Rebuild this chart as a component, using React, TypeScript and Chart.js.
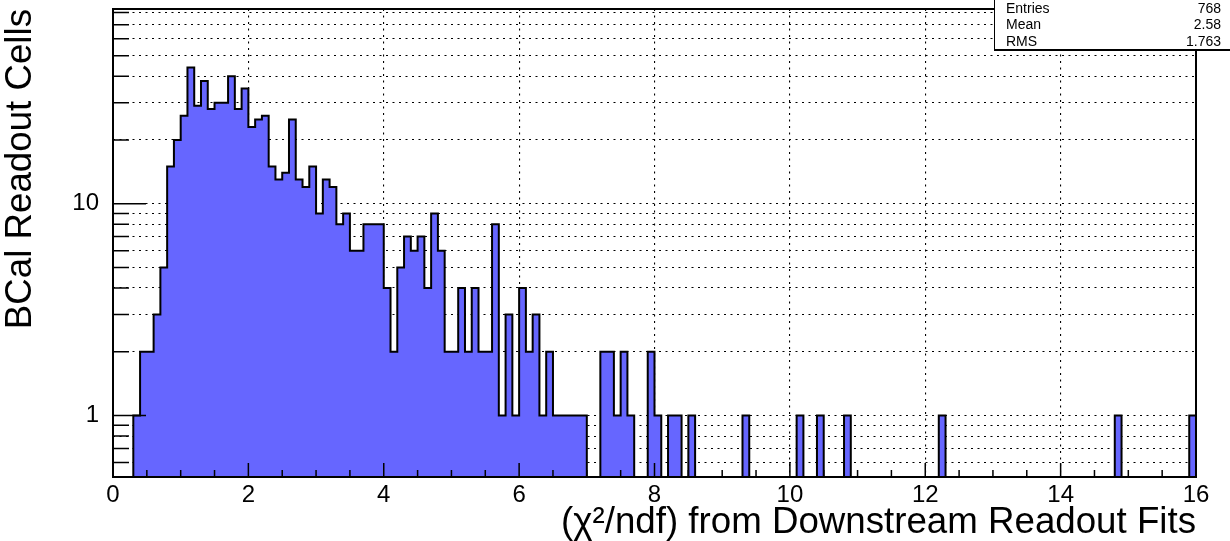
import React, { useEffect, useRef } from "react";
import { Chart, registerables } from "chart.js";

Chart.register(...registerables);

// ---- data ----
const BIN_WIDTH = 0.1;
const X_MIN = 0;
const X_MAX = 16;
const Y_MIN = 0.513;
const Y_MAX = 83;

// counts per 0.1-wide bin, from 0.0 to 16.0 (160 bins)
const COUNTS: number[] = [
  0, 0, 0, 1, 2, 2, 3, 5, 15, 20,
  26, 44, 29, 38, 28, 30, 30, 40, 28, 35,
  23, 25, 26, 15, 13, 14, 25, 13, 12, 15,
  9, 13, 12, 8, 9, 6, 6, 8, 8, 8,
  4, 2, 5, 7, 6, 7, 4, 9, 6, 2,
  2, 4, 2, 4, 2, 2, 8, 1, 3, 1,
  4, 2, 3, 1, 2, 1, 1, 1, 1, 1,
  0, 0, 2, 2, 1, 2, 1, 0, 0, 2,
  1, 0, 1, 1, 0, 1, 0, 0, 0, 0,
  0, 0, 0, 1, 0, 0, 0, 0, 0, 0,
  0, 1, 0, 0, 1, 0, 0, 0, 1, 0,
  0, 0, 0, 0, 0, 0, 0, 0, 0, 0,
  0, 0, 1, 0, 0, 0, 0, 0, 0, 0,
  0, 0, 0, 0, 0, 0, 0, 0, 0, 0,
  0, 0, 0, 0, 0, 0, 0, 0, 1, 0,
  0, 0, 0, 0, 0, 0, 0, 0, 0, 1,
];

const X_TICKS_MAJOR = [0, 2, 4, 6, 8, 10, 12, 14, 16];
const X_MINOR_STEP = 0.5;
const Y_TICKS = [0.6, 0.7, 0.8, 0.9, 1, 2, 3, 4, 5, 6, 7, 8, 9, 10, 20, 30, 40, 50, 60, 70, 80];
const Y_LABELED = [1, 10];

const X_TITLE = "(\u03C7\u00B2/ndf) from Downstream Readout Fits";
const Y_TITLE = "BCal Readout Cells";

const STAT_NAMES = ["Entries", "Mean", "RMS"];
const STAT_VALUES = ["768", "2.58", "1.763"];

// ---- style ----
const FONT = "'Liberation Sans', Arial, Helvetica, sans-serif";
const FILL = "#6666ff";
const W = 1230;
const H = 541;
const AREA = { left: 113, right: 1196, top: 9, bottom: 477 };

const decorPlugin = {
  id: "rootDecor",
  afterDatasetsDraw(chart: any) {
    const { ctx, chartArea: a } = chart;
    const xs = chart.scales.x;
    const ys = chart.scales.y;
    ctx.save();
    ctx.strokeStyle = "#000";
    ctx.lineWidth = 1.5;
    ctx.beginPath();
    const n = Math.round((X_MAX - X_MIN) / X_MINOR_STEP);
    for (let i = 0; i <= n; i++) {
      const v = X_MIN + i * X_MINOR_STEP;
      const px = xs.getPixelForValue(v);
      const major = X_TICKS_MAJOR.includes(v);
      const len = major ? 14 : 7;
      ctx.moveTo(px, a.bottom);
      ctx.lineTo(px, a.bottom - len);
    }
    for (const v of Y_TICKS) {
      const py = ys.getPixelForValue(v);
      const len = Y_LABELED.includes(v) ? 33 : 16;
      ctx.moveTo(a.left, py);
      ctx.lineTo(a.left + len, py);
    }
    ctx.stroke();
    ctx.lineWidth = 2;
    ctx.strokeRect(a.left, a.top, a.right - a.left, a.bottom - a.top);
    ctx.restore();
  },
  afterDraw(chart: any) {
    const { ctx } = chart;
    ctx.save();
    const left = 994;
    const top = -2;
    const right = 1233;
    const bottom = 49;
    ctx.fillStyle = "#fff";
    ctx.fillRect(left, top, right - left, bottom - top);
    ctx.strokeStyle = "#000";
    ctx.lineWidth = 1;
    ctx.strokeRect(left + 0.5, top + 0.5, right - left, bottom - top);
    ctx.lineWidth = 2;
    ctx.beginPath();
    ctx.moveTo(left, bottom + 1);
    ctx.lineTo(right, bottom + 1);
    ctx.stroke();
    ctx.fillStyle = "#000";
    ctx.font = `14px ${FONT}`;
    ctx.textBaseline = "alphabetic";
    const baselines = [12.5, 29.2, 45.5];
    STAT_NAMES.forEach((name, i) => {
      ctx.textAlign = "left";
      ctx.fillText(name, 1006, baselines[i]);
      ctx.textAlign = "right";
      ctx.fillText(STAT_VALUES[i], 1221, baselines[i]);
    });
    ctx.restore();
  },
};

export default function App() {
  const ref = useRef<HTMLCanvasElement | null>(null);

  useEffect(() => {
    if (!ref.current) return;
    // empty bins are sent below the axis floor so the outline drops to the bottom
    const floor = Y_MIN * 0.5;
    const points = COUNTS.map((c, i) => ({
      x: +(X_MIN + i * BIN_WIDTH).toFixed(1),
      y: c > 0 ? c : floor,
    }));
    const last = COUNTS[COUNTS.length - 1];
    points.push({ x: X_MAX, y: last > 0 ? last : floor });

    const chart = new Chart(ref.current, {
      type: "line",
      data: {
        datasets: [
          {
            data: points,
            stepped: "before",
            borderColor: "#000",
            borderWidth: 2,
            backgroundColor: FILL,
            fill: "start",
            pointRadius: 0,
            borderJoinStyle: "miter",
            borderCapStyle: "butt",
            tension: 0,
            clip: 0,
          } as any,
        ],
      },
      options: {
        animation: false,
        responsive: false,
        maintainAspectRatio: false,
        devicePixelRatio: 1,
        events: [],
        layout: { padding: { left: 0, right: W - AREA.right, top: AREA.top, bottom: 0 } },
        plugins: {
          legend: { display: false },
          tooltip: { enabled: false },
          title: { display: false },
        },
        scales: {
          x: {
            type: "linear",
            min: X_MIN,
            max: X_MAX,
            afterFit: (s: any) => {
              s.height = H - AREA.bottom;
              s.paddingLeft = 0;
              s.paddingRight = 0;
            },
            afterBuildTicks: (s: any) => {
              s.ticks = X_TICKS_MAJOR.map((v) => ({ value: v }));
            },
            ticks: {
              padding: 4,
              color: "#000",
              autoSkip: false,
              maxRotation: 0,
              font: { family: FONT, size: 24 },
              callback: (v: any) => String(v),
            },
            grid: { color: "#000", lineWidth: 1.1, drawTicks: false },
            border: { display: false, dash: [2, 4.5] },
            title: {
              display: true,
              text: X_TITLE,
              align: "end",
              color: "#000",
              font: { family: FONT, size: 36.7, lineHeight: 1 },
              padding: { top: 0, bottom: 0 },
            },
          },
          y: {
            type: "logarithmic",
            min: Y_MIN,
            max: Y_MAX,
            afterFit: (s: any) => {
              s.width = AREA.left;
              s.paddingTop = 0;
              s.paddingBottom = 0;
            },
            afterBuildTicks: (s: any) => {
              s.ticks = Y_TICKS.map((v) => ({ value: v }));
            },
            ticks: {
              padding: 14,
              color: "#000",
              autoSkip: false,
              font: { family: FONT, size: 24 },
              callback: (v: any) => (Y_LABELED.includes(Number(v)) ? String(v) : ""),
            },
            grid: { color: "#000", lineWidth: 1.1, drawTicks: false },
            border: { display: false, dash: [2, 4.5] },
            title: {
              display: true,
              text: Y_TITLE,
              align: "end",
              color: "#000",
              font: { family: FONT, size: 36.7, lineHeight: 1 },
              padding: { top: 3, bottom: 0 },
            },
          },
        },
      } as any,
      plugins: [decorPlugin],
    });
    return () => chart.destroy();
  }, []);

  return (
    <div style={{ position: "absolute", left: 0, top: 0, width: W, height: H, background: "#fff" }}>
      <canvas ref={ref} width={W} height={H} style={{ display: "block", width: W, height: H }} />
    </div>
  );
}
